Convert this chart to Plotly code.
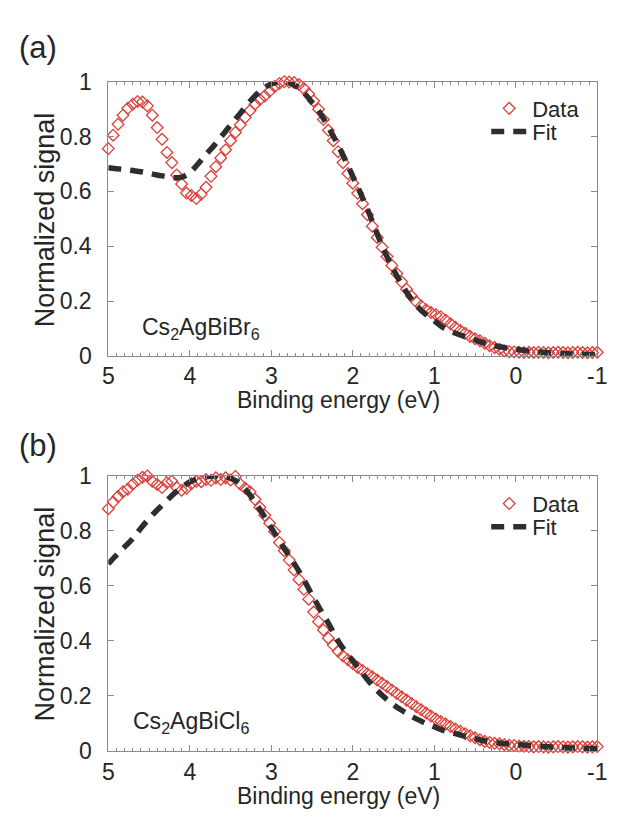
import plotly.graph_objects as go

# Binding-energy grid of the measured spectra (eV)
energy = [5.00, 4.94, 4.88, 4.82, 4.76, 4.70, 4.64, 4.58, 4.52, 4.46,
          4.40, 4.34, 4.28, 4.22, 4.16, 4.10, 4.04, 3.98, 3.92, 3.86,
          3.80, 3.74, 3.68, 3.62, 3.56, 3.50, 3.44, 3.38, 3.32, 3.26,
          3.20, 3.14, 3.08, 3.02, 2.96, 2.90, 2.84, 2.78, 2.72, 2.66,
          2.60, 2.54, 2.48, 2.42, 2.36, 2.30, 2.24, 2.18, 2.12, 2.06,
          2.00, 1.94, 1.88, 1.82, 1.76, 1.70, 1.64, 1.58, 1.52, 1.46,
          1.40, 1.34, 1.28, 1.22, 1.16, 1.10, 1.04, 0.98, 0.92, 0.86,
          0.80, 0.74, 0.68, 0.62, 0.56, 0.50, 0.44, 0.38, 0.32, 0.26,
          0.20, 0.14, 0.08, 0.02, -0.04, -0.10, -0.16, -0.22, -0.28, -0.34,
          -0.40, -0.46, -0.52, -0.58, -0.64, -0.70, -0.76, -0.82, -0.88, -0.94,
          -1.00]

# (a) Cs2AgBiBr6 measured signal
br_data = [0.756, 0.805, 0.845, 0.878, 0.903, 0.918, 0.928, 0.926, 0.912, 0.878,
           0.833, 0.790, 0.742, 0.705, 0.660, 0.627, 0.594, 0.585, 0.574, 0.590,
           0.615, 0.655, 0.690, 0.722, 0.752, 0.785, 0.815, 0.843, 0.870, 0.895,
           0.918, 0.935, 0.948, 0.965, 0.983, 0.994, 1.000, 0.999, 0.997, 0.990,
           0.975, 0.955, 0.930, 0.900, 0.862, 0.823, 0.785, 0.745, 0.705, 0.665,
           0.630, 0.593, 0.555, 0.515, 0.473, 0.432, 0.396, 0.362, 0.330, 0.300,
           0.270, 0.243, 0.218, 0.197, 0.182, 0.168, 0.158, 0.150, 0.143, 0.130,
           0.117, 0.104, 0.092, 0.082, 0.071, 0.062, 0.055, 0.046, 0.037, 0.030,
           0.024, 0.018, 0.015, 0.014, 0.013, 0.012, 0.013, 0.012, 0.013, 0.012,
           0.011, 0.012, 0.013, 0.012, 0.011, 0.012, 0.013, 0.012, 0.011, 0.012,
           0.013]

# (b) Cs2AgBiCl6 measured signal
cl_data = [0.881, 0.905, 0.925, 0.942, 0.952, 0.970, 0.984, 0.995, 1.000, 0.981,
           0.969, 0.958, 0.975, 0.981, 0.958, 0.948, 0.955, 0.972, 0.981, 0.979,
           0.987, 0.984, 0.993, 0.987, 0.993, 0.985, 0.998, 0.970, 0.955, 0.942,
           0.915, 0.886, 0.857, 0.828, 0.798, 0.758, 0.728, 0.694, 0.658, 0.623,
           0.588, 0.552, 0.505, 0.470, 0.440, 0.410, 0.385, 0.363, 0.345, 0.332,
           0.318, 0.304, 0.293, 0.281, 0.270, 0.258, 0.246, 0.234, 0.222, 0.209,
           0.197, 0.185, 0.173, 0.161, 0.150, 0.138, 0.127, 0.116, 0.107, 0.098,
           0.089, 0.080, 0.072, 0.063, 0.055, 0.048, 0.041, 0.035, 0.031, 0.028,
           0.026, 0.023, 0.021, 0.020, 0.018, 0.017, 0.016, 0.015, 0.016, 0.015,
           0.014, 0.015, 0.016, 0.015, 0.014, 0.015, 0.016, 0.015, 0.014, 0.015,
           0.016]

# Fitted curves, sampled on a coarser grid
fit_energy = [5.0, 4.9, 4.8, 4.7, 4.6, 4.5, 4.4, 4.3, 4.2, 4.1,
              4.0, 3.9, 3.8, 3.7, 3.6, 3.5, 3.4, 3.3, 3.2, 3.1,
              3.0, 2.9, 2.8, 2.7, 2.6, 2.5, 2.4, 2.3, 2.2, 2.1,
              2.0, 1.9, 1.8, 1.7, 1.6, 1.5, 1.4, 1.3, 1.2, 1.1,
              1.0, 0.9, 0.8, 0.7, 0.6, 0.5, 0.4, 0.3, 0.2, 0.1,
              0.0, -0.2, -0.4, -0.6, -0.8, -1.0]

br_fit = [0.686, 0.683, 0.680, 0.676, 0.672, 0.666, 0.660, 0.655, 0.650, 0.652,
          0.668, 0.700, 0.735, 0.768, 0.805, 0.842, 0.878, 0.915, 0.948, 0.975,
          0.992, 1.000, 0.998, 0.985, 0.960, 0.925, 0.885, 0.835, 0.780, 0.720,
          0.655, 0.590, 0.520, 0.445, 0.375, 0.315, 0.262, 0.215, 0.178, 0.150,
          0.128, 0.105, 0.090, 0.078, 0.068, 0.058, 0.048, 0.040, 0.033, 0.028,
          0.024, 0.016, 0.011, 0.008, 0.006, 0.005]

cl_fit = [0.680, 0.712, 0.742, 0.772, 0.810, 0.845, 0.876, 0.905, 0.934, 0.958,
          0.978, 0.990, 0.997, 1.000, 0.998, 0.992, 0.975, 0.945, 0.905, 0.860,
          0.812, 0.763, 0.718, 0.673, 0.622, 0.568, 0.515, 0.465, 0.410, 0.365,
          0.328, 0.290, 0.252, 0.220, 0.192, 0.168, 0.148, 0.130, 0.114, 0.100,
          0.088, 0.076, 0.068, 0.060, 0.052, 0.045, 0.038, 0.033, 0.029, 0.026,
          0.024, 0.019, 0.015, 0.012, 0.010, 0.009]

x_ticks = [5, 4, 3, 2, 1, 0, -1]
x_ticklabels = ["5", "4", "3", "2", "1", "0", "-1"]
y_ticks = [0, 0.2, 0.4, 0.6, 0.8, 1]
y_ticklabels = ["0", "0.2", "0.4", "0.6", "0.8", "1"]

FONT = "Liberation Sans, Arial, Helvetica, sans-serif"
TEXT = "#262626"
AXIS = "#8a8a8a"
RED = "#dc4038"
DARK = "#2e2e2e"

W, H = 617, 825

fig = go.Figure()

# each panel gets its own pair of single-entry legends (Data row, Fit row)
panels = [
    ("x", "y", br_data, br_fit, "legend", "legend3"),
    ("x2", "y2", cl_data, cl_fit, "legend2", "legend4"),
]
for xa, ya, data, fit, leg_d, leg_f in panels:
    fig.add_trace(go.Scatter(
        x=energy, y=data, xaxis=xa, yaxis=ya, mode="markers", name="Data",
        marker=dict(symbol="diamond-open", size=9, color=RED,
                    line=dict(width=1.3, color=RED)),
        cliponaxis=False, legend=leg_d,
    ))
    fig.add_trace(go.Scatter(
        x=fit_energy, y=fit, xaxis=xa, yaxis=ya, mode="lines", name="Fit",
        line=dict(color=DARK, width=5.5, dash="13px,9px", shape="spline"),
        cliponaxis=False, legend=leg_f,
    ))

xdom = [105 / W, 607 / W]
ydom_a = [1 - 354 / H, 1 - 71 / H]
ydom_b = [1 - 762 / H, 1 - 478 / H]

common_x = dict(
    range=[5, -1], tickvals=x_ticks, ticktext=x_ticklabels,
    showline=True, linecolor=AXIS, linewidth=1, mirror="ticks",
    ticks="inside", ticklen=6, tickcolor=AXIS, tickwidth=1,
    minor=dict(dtick=0.1, ticks="inside", ticklen=3, tickcolor=AXIS),
    showgrid=False, zeroline=False, ticklabelstandoff=0,
    ticklabeloverflow="allow",
    tickfont=dict(family=FONT, size=23, color=TEXT),
)
common_y = dict(
    range=[0, 1], tickvals=y_ticks, ticktext=y_ticklabels,
    showline=True, linecolor=AXIS, linewidth=1, mirror="ticks",
    ticks="inside", ticklen=6, tickcolor=AXIS, tickwidth=1,
    showgrid=False, zeroline=False, ticklabelstandoff=11,
    tickfont=dict(family=FONT, size=23, color=TEXT),
)

legend_common = dict(
    font=dict(family=FONT, size=22, color=TEXT),
    bgcolor="rgba(0,0,0,0)", borderwidth=0,
    xanchor="left", yanchor="top", itemwidth=36, tracegroupgap=0,
)
LEG_X = 493 / W

fig.update_layout(
    width=W, height=H,
    margin=dict(l=0, r=0, t=0, b=0),
    paper_bgcolor="white", plot_bgcolor="white",
    showlegend=True,
    xaxis=dict(domain=xdom, anchor="y", **common_x),
    yaxis=dict(domain=ydom_a, anchor="x", **common_y),
    xaxis2=dict(domain=xdom, anchor="y2", **common_x),
    yaxis2=dict(domain=ydom_b, anchor="x2", **common_y),
    legend=dict(x=LEG_X, y=1 - 77 / H, **legend_common),
    legend3=dict(x=LEG_X, y=1 - 101 / H, **legend_common),
    legend2=dict(x=LEG_X, y=1 - 485 / H, **legend_common),
    legend4=dict(x=LEG_X, y=1 - 509 / H, **legend_common),
)

# panel letters
for text, py in [("(a)", 36), ("(b)", 447)]:
    fig.add_annotation(
        text=text, xref="paper", yref="paper",
        x=11 / W, y=1 - py / H, xanchor="left", yanchor="middle",
        showarrow=False, font=dict(family=FONT, size=31, color=TEXT),
    )

# sample names inside each panel
for label, px, py in [("Cs<sub>2</sub>AgBiBr<sub>6</sub>", 138, 326),
                      ("Cs<sub>2</sub>AgBiCl<sub>6</sub>", 128, 733)]:
    fig.add_annotation(
        text=label, xref="paper", yref="paper",
        x=px / W, y=1 - py / H, xanchor="left", yanchor="middle",
        showarrow=False, font=dict(family=FONT, size=23, color=TEXT),
    )

# axis titles
for cy in (213, 620):
    fig.add_annotation(
        text="Normalized signal", xref="paper", yref="paper",
        x=40 / W, y=1 - cy / H, xanchor="center", yanchor="middle",
        textangle=-90, showarrow=False,
        font=dict(family=FONT, size=27, color=TEXT),
    )
for cy in (400, 808):
    fig.add_annotation(
        text="Binding energy (eV)", xref="paper", yref="paper",
        x=341 / W, y=1 - cy / H, xanchor="center", yanchor="middle",
        showarrow=False, font=dict(family=FONT, size=23, color=TEXT),
    )

fig.write_html("out.html")
